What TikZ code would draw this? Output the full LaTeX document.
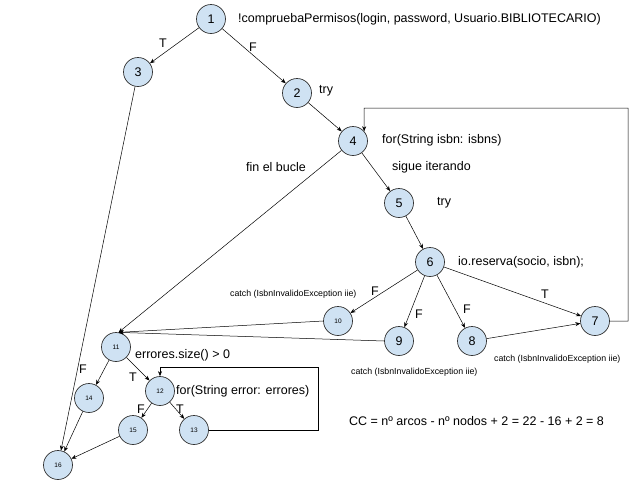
\documentclass[tikz,border=0pt]{standalone}
\usepackage{fontspec}
\setmainfont{Liberation Sans}
\usetikzlibrary{arrows.meta, positioning}

\begin{document}
\begin{tikzpicture}[x=1pt,y=-1pt]
    \edef\sizenode{29pt}
    \definecolor{nodeblue}{HTML}{CFE2F3}
    \tikzstyle{vertex}=[circle,draw=black!80,line width=0.7pt,fill=nodeblue,minimum size=\sizenode,inner sep=0pt,font=\fontsize{12.5}{14}\selectfont]
    \tikzstyle{vsmall}=[vertex,font=\fontsize{6.5}{7}\selectfont]
    \tikzstyle{lbl}=[inner sep=0pt,font=\fontsize{12.5}{14}\selectfont]
    \tikzstyle{tiny}=[inner sep=0pt,font=\fontsize{8.8}{10}\selectfont]
    \tikzstyle{edge}=[-{Stealth[length=5pt,width=4pt]},line width=0.5pt]

    \useasboundingbox (0,0) rectangle (640,480);

    \node (n1) [vertex] at (211,19) {1};
    \node (n3) [vertex] at (138,72) {3};
    \node (n2) [vertex] at (297,93) {2};
    \node (n4) [vertex] at (353,141) {4};
    \node (n5) [vertex] at (399,203) {5};
    \node (n6) [vertex] at (430,262) {6};
    \node (n10) [vsmall] at (338,321) {10};
    \node (n9) [vertex] at (399,341) {9};
    \node (n8) [vertex] at (472,341) {8};
    \node (n7) [vertex] at (595,321) {7};
    \node (n11) [vsmall] at (116,347) {11};
    \node (n12) [vsmall] at (160,391) {12};
    \node (n14) [vsmall] at (89,398) {14};
    \node (n15) [vsmall] at (133,430) {15};
    \node (n13) [vsmall] at (194,430) {13};
    \node (n16) [vsmall] at (58,465) {16};

    \node (t1) [lbl,anchor=west] at (238,19) {!compruebaPermisos(login, password, Usuario.BIBLIOTECARIO)};
    \node (t2) [lbl,anchor=west] at (319,91) {try};
    \node (t4) [lbl,anchor=west] at (382,140) {for(String isbn: isbns)};
    \node (tfin) [lbl] at (276,167) {fin el bucle};
    \node (tsig) [lbl,anchor=west] at (392,167) {sigue iterando};
    \node (t5) [lbl,anchor=west] at (437,203) {try};
    \node (t6) [lbl,anchor=west] at (458,262) {io.reserva(socio, isbn);};
    \node (c10) [tiny,anchor=west] at (230,294) {catch (IsbnInvalidoException iie)};
    \node (c8) [tiny,anchor=west] at (494,359) {catch (IsbnInvalidoException iie)};
    \node (c9) [tiny,anchor=west] at (351,372) {catch (IsbnInvalidoException iie)};
    \node (t11) [lbl,anchor=west] at (135,355) {errores.size() > 0};
    \node (t12) [lbl,anchor=west] at (176,391) {for(String error: errores)};
    \node (cc) [lbl,anchor=west] at (349,421) {CC = nº arcos - nº nodos + 2 = 22 - 16 + 2 = 8};

    \node (l13) [lbl] at (163,43) {T};
    \node (l12) [lbl] at (253,47) {F};
    \node (l610) [lbl] at (375,291) {F};
    \node (l69) [lbl] at (419,314) {F};
    \node (l68) [lbl] at (467,309) {F};
    \node (l67) [lbl] at (545,294) {T};
    \node (l1114) [lbl] at (83,369) {F};
    \node (l1112) [lbl] at (133,377) {T};
    \node (l1215) [lbl] at (141,409) {F};
    \node (l1213) [lbl] at (180,409) {T};

    \coordinate (loopa) at (628,108);
    \coordinate (loopb) at (364,108);
    \coordinate (loopc) at (318,367);
    \coordinate (loopd) at (160,367);

    \draw [edge] (n1) -- (n3);
    \draw [edge] (n1) -- (n2);
    \draw [edge] (n2) -- (n4);
    \draw [edge] (n4) -- (n5);
    \draw [edge] (n5) -- (n6);
    \draw [edge] (n4) -- (n11.80);
    \draw [edge] (n6) -- (n10);
    \draw [edge] (n6) -- (n9);
    \draw [edge] (n6) -- (n8);
    \draw [edge] (n6) -- (n7);
    \draw [edge] (n8) -- (n7);
    \draw [edge] (n7.east) -| (loopa) -- (loopb) -- (n4.41);
    \draw [edge] (n10.west) -- (n11.80);
    \draw [edge] (n9.west) -- (n11.80);
    \draw [edge] (n3) -- (n16);
    \draw [edge] (n11) -- (n14);
    \draw [edge] (n11) -- (n12);
    \draw [edge] (n12) -- (n15);
    \draw [edge] (n12) -- (n13);
    \draw [edge] (n13.east) -| (loopc) -- (loopd) -- (n12.north);
    \draw [edge] (n14) -- (n16);
    \draw [edge] (n15) -- (n16);
\end{tikzpicture}
\end{document}
